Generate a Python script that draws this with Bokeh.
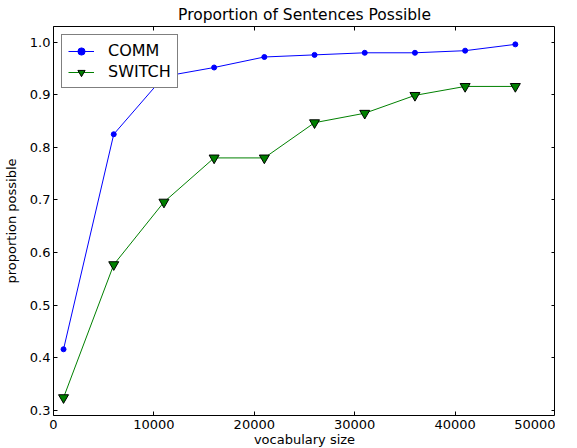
from bokeh.plotting import figure
from bokeh.models import Range1d, FixedTicker, LinearAxis, Legend, LegendItem, Title, CustomJSTickFormatter
from bokeh.embed import file_html
from bokeh.resources import INLINE

vocab = [1000, 6000, 11000, 16000, 21000, 26000, 31000, 36000, 41000, 46000]
comm = [0.416, 0.825, 0.935, 0.952, 0.972, 0.976, 0.980, 0.980, 0.984, 0.996]
switch = [0.324, 0.577, 0.696, 0.780, 0.780, 0.847, 0.865, 0.899, 0.916, 0.916]
x_ticks = [0, 10000, 20000, 30000, 40000, 50000]
y_ticks = [0.3, 0.4, 0.5, 0.6, 0.7, 0.8, 0.9, 1.0]

FONT = "DejaVu Sans"

p = figure(frame_width=502, frame_height=389, output_backend="svg", toolbar_location=None,
           x_range=Range1d(0, 50000), y_range=Range1d(0.29, 1.03),
           min_border_left=0, min_border_right=0, min_border_top=0, min_border_bottom=0)

p.title = Title(text="Proportion of Sentences Possible", align="center",
                text_font=FONT, text_font_size="15.5px", text_font_style="normal",
                text_color="black", standoff=6, offset=0)
p.xgrid.visible = False
p.ygrid.visible = False
p.outline_line_color = "black"
p.outline_line_width = 1

cl = p.line(vocab, comm, line_color="#0000ff", line_width=1)
cs = p.scatter(vocab, comm, marker="circle", size=5, fill_color="#0000ff", line_color="#0000ff")
sl = p.line(vocab, switch, line_color="#008000", line_width=1)
ss = p.scatter(vocab, switch, marker="inverted_triangle", size=10, fill_color="#008000", line_color="black")

def style_axis(ax, show_labels=True):
    ax.major_tick_in = 4
    ax.major_tick_out = 0
    ax.minor_tick_in = 0
    ax.minor_tick_out = 0
    ax.axis_line_color = None
    ax.major_tick_line_color = "black"
    ax.major_label_text_font = FONT
    ax.major_label_text_font_size = "13px"
    ax.major_label_text_color = "black"
    ax.axis_label_text_font = FONT
    ax.axis_label_text_font_size = "13px"
    ax.axis_label_text_font_style = "normal"
    ax.axis_label_text_color = "black"
    if not show_labels:
        ax.formatter = CustomJSTickFormatter(code="return '';")
        ax.major_label_standoff = 0

p.xaxis.ticker = FixedTicker(ticks=x_ticks)
p.yaxis.ticker = FixedTicker(ticks=y_ticks)
p.yaxis.formatter = CustomJSTickFormatter(code="return tick.toFixed(1);")
p.xaxis.formatter = CustomJSTickFormatter(code="return tick.toFixed(0);")
p.xaxis.axis_label = "vocabulary size"
p.yaxis.axis_label = "proportion possible"
style_axis(p.xaxis[0])
style_axis(p.yaxis[0])
p.xaxis.major_label_standoff = 4
p.xaxis.axis_label_standoff = 0
p.yaxis.major_label_standoff = 3
p.yaxis.axis_label_standoff = 8

top = LinearAxis(ticker=FixedTicker(ticks=x_ticks))
style_axis(top, show_labels=False)
top.major_label_standoff = 3
p.add_layout(top, "above")
right = LinearAxis(ticker=FixedTicker(ticks=y_ticks))
style_axis(right, show_labels=False)
p.add_layout(right, "right")

legend = Legend(items=[LegendItem(label="COMM", renderers=[cl, cs]),
                       LegendItem(label="SWITCH", renderers=[sl, ss])],
                location="top_left")
legend.label_text_font = FONT
legend.label_text_font_size = "16px"
legend.label_text_color = "black"
legend.border_line_color = "black"
legend.border_line_width = 1
legend.background_fill_alpha = 1
legend.padding = 6
legend.spacing = 2
legend.margin = 8
legend.glyph_width = 26
legend.label_height = 18
legend.glyph_height = 18
legend.label_standoff = 14
p.add_layout(legend)

open("out.html", "w").write(file_html(p, INLINE))
